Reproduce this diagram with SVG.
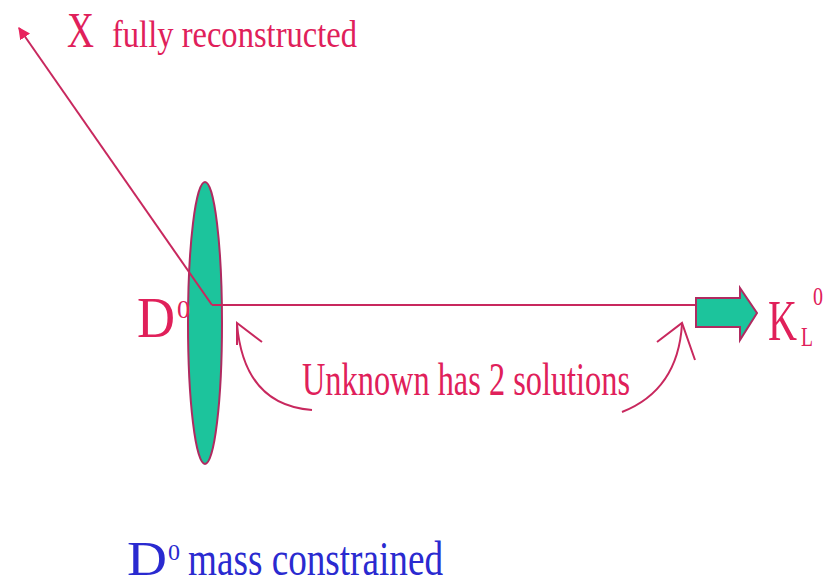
<svg xmlns="http://www.w3.org/2000/svg" width="825" height="587" viewBox="0 0 825 587">
<style>
.lbl{font-family:"Liberation Serif","Times New Roman",serif;fill:#e0205a}
.blue{font-family:"Liberation Serif","Times New Roman",serif;fill:#2a2ad0}
.ln{stroke:#c8285e;stroke-width:2;fill:none}
.arc{stroke:#c8285e;stroke-width:2;fill:none}
.teal{fill:#1cc49c;stroke:#b02a60;stroke-width:2}
</style>
<defs>
<marker id="tipX" viewBox="0 0 10 10" refX="9" refY="5" markerWidth="6" markerHeight="6" orient="auto-start-reverse">
<path d="M0,0 L10,5 L0,10 z" fill="#e8245e"/>
</marker>
</defs>
<rect width="825" height="587" fill="#ffffff"/>
<g id="D0-node">
<ellipse cx="205" cy="323" rx="17" ry="141" class="teal"/>
<text class="lbl" x="137" y="337" font-size="56" textLength="38" lengthAdjust="spacingAndGlyphs">D</text>
<text class="lbl" x="177" y="318" font-size="26">0</text>
</g>
<g id="X-label">
<text class="lbl" x="67" y="47" font-size="50" textLength="27" lengthAdjust="spacingAndGlyphs">X</text>
<text class="lbl" x="112" y="47" font-size="38" textLength="245" lengthAdjust="spacingAndGlyphs">fully reconstructed</text>
</g>
<g id="KL-label">
<text class="lbl" x="768" y="340" font-size="58"><tspan textLength="29" lengthAdjust="spacingAndGlyphs">K</tspan><tspan x="801" y="346" font-size="28" textLength="12" lengthAdjust="spacingAndGlyphs">L</tspan><tspan x="813" y="305" font-size="26" textLength="10" lengthAdjust="spacingAndGlyphs">0</tspan></text>
</g>
<g id="connectors">
<line class="ln" x1="212" y1="305" x2="19" y2="28" marker-end="url(#tipX)"/>
<line class="ln" x1="212" y1="305" x2="696" y2="305"/>
<path class="teal" d="M696,298 L740,298 L740,288 L757,313 L740,340 L740,327 L696,327 Z"/>
<path class="arc" d="M312,410 Q244,405 237,324"/>
<path class="arc" d="M262,342 L237,323 L237,345"/>
<path class="arc" d="M622,412 Q678,390 682,324"/>
<path class="arc" d="M657,342 L682,323 L695,360"/>
</g>
<g id="caption">
<text class="lbl" x="302" y="395" font-size="46" textLength="328" lengthAdjust="spacingAndGlyphs">Unknown has 2 solutions</text>
</g>
<g id="mass-label">
<text class="blue" x="127" y="575" font-size="48" textLength="40" lengthAdjust="spacingAndGlyphs">D</text>
<text class="blue" x="168" y="560" font-size="24">0</text>
<text class="blue" x="188" y="575" font-size="48" textLength="255" lengthAdjust="spacingAndGlyphs">mass constrained</text>
</g>
</svg>
